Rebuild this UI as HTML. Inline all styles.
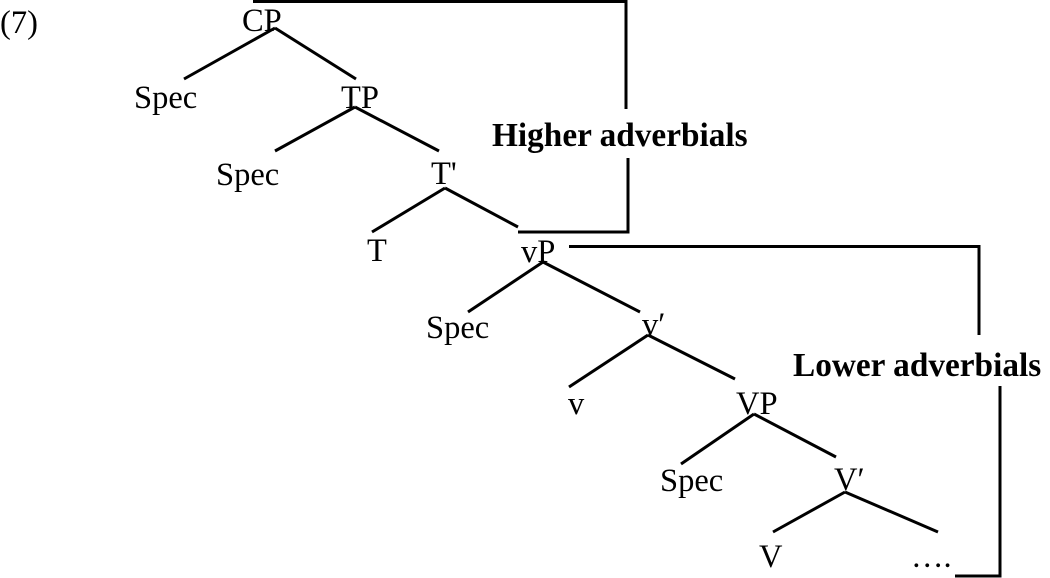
<!DOCTYPE html>
<html>
<head>
<meta charset="utf-8">
<style>
html,body{margin:0;padding:0;background:#fff;}
svg{display:block;}
text{font-family:"Liberation Serif",serif;font-size:32.5px;fill:#000;}
text.b{font-weight:bold;font-size:33.3px;}
line,polyline{stroke:#000;stroke-width:3;fill:none;}
</style>
</head>
<body>
<svg width="1050" height="578" viewBox="0 0 1050 578" xmlns="http://www.w3.org/2000/svg">
<text x="0" y="33">(7)</text>
<text x="242" y="31">CP</text>
<text x="134" y="108">Spec</text>
<text x="341" y="108">TP</text>
<text x="216" y="185">Spec</text>
<text x="431" y="184">T'</text>
<text x="367" y="261">T</text>
<text x="521" y="262">vP</text>
<text x="426" y="338">Spec</text>
<text x="642" y="335">v′</text>
<text x="568" y="414">v</text>
<text x="736" y="414">VP</text>
<text x="660" y="491">Spec</text>
<text x="834" y="490">V′</text>
<text x="759" y="567">V</text>
<text x="911" y="567">….</text>
<text class="b" x="492" y="146">Higher adverbials</text>
<text class="b" x="793" y="376">Lower adverbials</text>

<line x1="275" y1="28" x2="184" y2="79"/>
<line x1="275" y1="28" x2="356" y2="79"/>
<line x1="355" y1="107" x2="275" y2="151"/>
<line x1="355" y1="107" x2="439" y2="151"/>
<line x1="445" y1="188" x2="372" y2="232"/>
<line x1="445" y1="188" x2="518" y2="227"/>
<line x1="543" y1="262" x2="468" y2="312"/>
<line x1="543" y1="262" x2="640" y2="312"/>
<line x1="648" y1="335" x2="569" y2="387"/>
<line x1="648" y1="335" x2="735" y2="379"/>
<line x1="754" y1="414" x2="681" y2="464"/>
<line x1="754" y1="414" x2="836" y2="457"/>
<line x1="845" y1="492" x2="773" y2="532"/>
<line x1="845" y1="492" x2="938" y2="532"/>

<polyline points="253,1.5 626,1.5 626,109"/>
<polyline points="518,232 628,232 628,158"/>
<polyline points="569,246.5 979,246.5 979,335"/>
<polyline points="1000,386 1000,576 955,576"/>
</svg>
</body>
</html>
